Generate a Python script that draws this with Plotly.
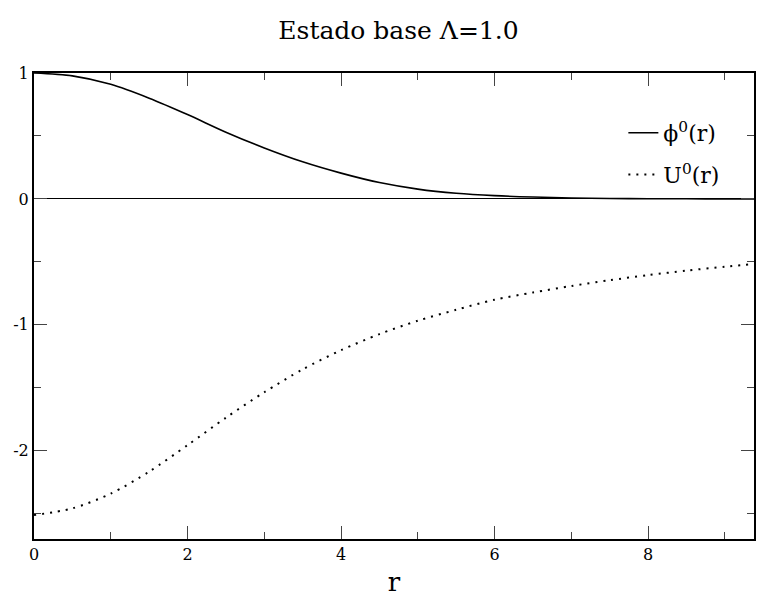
import plotly.graph_objects as go

r = [0.0, 0.5, 1.0, 1.5, 2.0, 2.5, 3.0, 3.5, 4.0, 4.5, 5.0, 5.5, 6.0, 6.5, 7.0, 7.5, 8.0, 8.5, 9.0, 9.5]
phi0 = [1.0, 0.977, 0.910, 0.800, 0.670, 0.530, 0.405, 0.295, 0.205, 0.130, 0.078, 0.045, 0.026, 0.015, 0.008, 0.004, 0.002, 0.001, 0.0005, 0.0002]
U0 = [-2.51, -2.457, -2.34, -2.165, -1.955, -1.737, -1.535, -1.353, -1.201, -1.073, -0.967, -0.88, -0.80, -0.743, -0.691, -0.645, -0.605, -0.569, -0.538, -0.51]

x_ticks = [0, 2, 4, 6, 8]
x_ticktext = ["0", "2", "4", "6", "8"]
y_ticks = [-2, -1, 0, 1]
y_ticktext = ["-2", "-1", "0", "1"]

FONT = "DejaVu Serif"

fig = go.Figure()
fig.add_trace(go.Scatter(x=r, y=phi0, mode="lines", name="ϕ<sup>0</sup>(r)",
                         legendgroup="a",
                         line=dict(color="black", width=1.6, shape="spline", smoothing=0.8)))
fig.add_trace(go.Scatter(x=r, y=U0, mode="lines", name="U<sup>0</sup>(r)",
                         legendgroup="b",
                         line=dict(color="black", width=2, dash="2px,6px", shape="spline", smoothing=0.8)))

axis_common = dict(
    showline=True, linecolor="black", linewidth=2, mirror="allticks",
    ticks="inside", ticklen=13, tickwidth=1, tickcolor="#444",
    showgrid=False,
    tickfont=dict(family=FONT, size=16, color="black"),
)

fig.update_xaxes(
    range=[0, 9.38], tickmode="array", tickvals=x_ticks, ticktext=x_ticktext,
    zeroline=False,
    minor=dict(ticks="inside", ticklen=7, dtick=1, tick0=0, tickcolor="#444", showgrid=False),
    title=dict(text="r", font=dict(family=FONT, size=26, color="black"), standoff=10),
    **axis_common,
)
fig.update_yaxes(
    range=[-2.7, 1.0], tickmode="array", tickvals=y_ticks, ticktext=y_ticktext,
    zeroline=True, zerolinecolor="black", zerolinewidth=1,
    minor=dict(ticks="inside", ticklen=7, dtick=0.5, tick0=0, tickcolor="#444", showgrid=False),
    **axis_common,
)

fig.update_layout(
    width=759, height=604,
    margin=dict(l=34, r=3, t=73, b=65),
    paper_bgcolor="white", plot_bgcolor="white",
    title=dict(text="Estado base Λ=1.0", x=0.525, xanchor="center", y=0.95, yanchor="middle",
               yref="container", font=dict(family=FONT, size=25, color="black")),
    showlegend=True,
    legend=dict(x=(625 - 34) / 722, xanchor="left", y=1 - (112 - 73) / 466, yanchor="top",
                font=dict(family=FONT, size=22, color="black"),
                bgcolor="white", borderwidth=0, tracegroupgap=10, itemwidth=30),
)

fig.write_html("out.html")
